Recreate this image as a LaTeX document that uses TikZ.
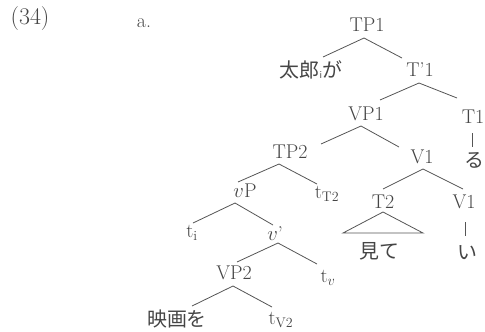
\documentclass[tikz,border=0pt]{standalone}
\usepackage{fontspec}
\newfontfamily\jp{Noto Sans CJK JP}
\definecolor{ink}{HTML}{454545}
\definecolor{edge}{HTML}{555555}
\tikzset{
  lab/.style={inner sep=0pt, anchor=center, text=ink, font=\fontsize{20}{20}\selectfont},
  jlab/.style={inner sep=0pt, anchor=center, text=ink, font=\jp\fontsize{20}{20}\selectfont},
  br/.style={draw=edge, line width=0.8bp}
}
\newcommand{\brx}[6]{\draw[br] ([shift={(#2,#3)}]#1.center) -- ([shift={(#5,#6)}]#4.center);}
\begin{document}
\begin{tikzpicture}[x=1bp,y=-1bp]
\useasboundingbox (0,0) rectangle (485,331);
\node[lab, font=\fontsize{24}{24}\selectfont] (n34) at (30,19) {(34)};
\node[lab] (a) at (144,23) {a.};
\node[lab] (TP1) at (367,25) {TP1};
\node[jlab] (J1) at (311,70) {太郎{\fontsize{9}{9}\selectfont\raisebox{-1pt}{i}}が};
\node[lab] (Tb1) at (420,70) {T'1};
\node[lab] (VP1) at (366,114) {VP1};
\node[lab] (T1) at (473,117) {T1};
\node[jlab] (Ru) at (474,160) {る};
\node[lab] (TP2) at (290,152) {TP2};
\node[lab] (V1a) at (422,157) {V1};
\node[lab] (tT2) at (327,194) {$\mathrm{t}_{\mathrm{T2}}$};
\node[lab] (vP) at (245,191) {$v$P};
\node[lab] (T2) at (383,202) {T2};
\node[lab] (V1b) at (464,202) {V1};
\node[jlab] (Mite) at (379,251) {見て};
\node[jlab] (I) at (467,253) {い};
\node[lab] (ti) at (192,233) {$\mathrm{t}_{\mathrm{i}}$};
\node[lab] (vb) at (275,234) {$v$'};
\node[lab] (VP2) at (234,273) {VP2};
\node[lab] (tv) at (328,278) {$\mathrm{t}_{v}$};
\node[jlab] (Eiga) at (177,319) {映画を};
\node[lab] (tV2) at (281,320) {$\mathrm{t}_{\mathrm{V2}}$};
% branches
\brx{TP1}{-3}{13}{J1}{12}{-13}
\brx{TP1}{-3}{13}{Tb1}{-18}{-12}
\brx{Tb1}{-1}{13}{VP1}{14}{-14}
\brx{Tb1}{-1}{13}{T1}{-16}{-19}
\brx{T1}{-1}{16}{Ru}{-2}{-13}
\brx{VP1}{-5}{12}{TP2}{31}{-8}
\brx{VP1}{-5}{12}{V1a}{-23}{-10}
\brx{TP2}{-11}{12}{vP}{-7}{-9}
\brx{TP2}{-11}{12}{tT2}{-10}{-10}
\brx{V1a}{1}{12}{T2}{0}{-13}
\brx{V1a}{1}{12}{V1b}{-1}{-13}
\brx{V1b}{1}{20}{I}{-2}{-17}
\brx{vP}{-10}{12}{ti}{1}{-10}
\brx{vP}{-10}{12}{vb}{-2}{-9}
\brx{vb}{3}{9}{VP2}{3}{-11}
\brx{vb}{3}{9}{tv}{-11}{-14}
\brx{VP2}{-1}{13}{Eiga}{15}{-13}
\brx{VP2}{-1}{13}{tV2}{-9}{-13}
% triangle
\draw[br] ([shift={(0,10)}]T2.center) -- ([shift={(-40,31)}]T2.center) -- ([shift={(40,31)}]T2.center) -- cycle;
\end{tikzpicture}
\end{document}
